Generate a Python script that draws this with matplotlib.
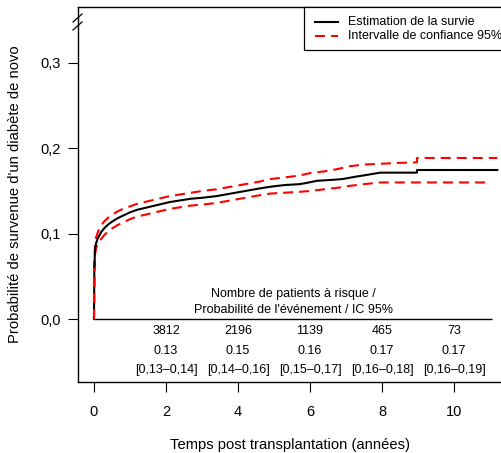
import numpy as np
import matplotlib.pyplot as plt
from matplotlib.lines import Line2D
from matplotlib.patches import Rectangle

plt.rcParams['font.family'] = ['Liberation Sans', 'DejaVu Sans']

# estimate
t_est = [0, 0.01, 0.03, 0.06, 0.1, 0.15, 0.2, 0.3, 0.4, 0.5, 0.65, 0.8, 1.0, 1.2, 1.5, 1.8,
         2.1, 2.4, 2.7, 3.0, 3.4, 3.8, 4.2, 4.6, 4.9, 5.3, 5.7, 5.85, 6.2, 6.6, 6.9, 7.3, 7.6,
         7.95, 8.97, 8.97, 11.2]
v_est = [0, 0.060, 0.082, 0.089, 0.094, 0.098, 0.102, 0.107, 0.111, 0.114, 0.118, 0.121,
         0.125, 0.128, 0.131, 0.134, 0.137, 0.139, 0.141, 0.142, 0.144, 0.147, 0.150, 0.153,
         0.155, 0.157, 0.158, 0.159, 0.162, 0.163, 0.164, 0.167, 0.169, 0.1715, 0.1715,
         0.1746, 0.1746]

# 95% confidence band
t_up = [0, 0.01, 0.03, 0.06, 0.1, 0.15, 0.2, 0.3, 0.4, 0.5, 0.65, 0.8, 1.0, 1.2, 1.5, 1.8,
        2.1, 2.4, 2.7, 3.0, 3.4, 3.8, 4.2, 4.6, 4.9, 5.3, 5.7, 6.0, 6.4, 6.8, 7.1, 7.5, 8.0,
        8.5, 8.97, 8.97, 11.2]
v_up = [0, 0.064, 0.088, 0.096, 0.101, 0.106, 0.110, 0.115, 0.119, 0.122, 0.126, 0.129,
        0.132, 0.135, 0.138, 0.141, 0.144, 0.146, 0.148, 0.150, 0.152, 0.155, 0.158, 0.161,
        0.164, 0.166, 0.168, 0.171, 0.173, 0.176, 0.179, 0.181, 0.182, 0.183, 0.1836,
        0.1887, 0.1887]
t_lo = [0, 0.01, 0.03, 0.06, 0.1, 0.15, 0.2, 0.3, 0.4, 0.5, 0.65, 0.8, 1.0, 1.2, 1.5, 1.8,
        2.1, 2.4, 2.7, 3.0, 3.4, 3.8, 4.2, 4.6, 4.9, 5.3, 5.7, 6.0, 6.4, 6.8, 7.1, 7.5, 7.95,
        11.0]
v_lo = [0, 0.056, 0.076, 0.083, 0.088, 0.091, 0.094, 0.099, 0.103, 0.106, 0.110, 0.113,
        0.117, 0.120, 0.123, 0.126, 0.129, 0.131, 0.133, 0.134, 0.136, 0.139, 0.142, 0.145,
        0.147, 0.148, 0.149, 0.150, 0.152, 0.154, 0.156, 0.158, 0.160, 0.160]

# risk table
risk_times = [2, 4, 6, 8, 10]
n_risk = ['3812', '2196', '1139', '465', '73']
prob = ['0.13', '0.15', '0.16', '0.17', '0.17']
ci = ['[0,13\u20130,14]', '[0,14\u20130,16]', '[0,15\u20130,17]', '[0,16\u20130,18]', '[0,16\u20130,19]']

W, H = 502, 453
fig = plt.figure(figsize=(W / 100, H / 100), dpi=100)
ax = fig.add_axes([78 / W, 71 / H, 425 / W, 375 / H])


def fx(px):
    return px / W


def fy(py):
    return 1 - py / H


dash = (4.8, 2.9)
ax.plot(t_up, v_up, color='red', lw=1.5, dashes=dash)
ax.plot(t_lo, v_lo, color='red', lw=1.5, dashes=dash)
ax.plot(t_est, v_est, color='black', lw=1.5, zorder=3)
ax.plot([0, 0], [0, 0.06], color='red', lw=1.5, dashes=dash, zorder=4)
ax.hlines(0, 0, 11.05, color='black', lw=1.0)

ax.set_xlim(-0.444, 11.36)
ax.set_ylim(-0.0738, 0.3656)
ax.set_xticks([0, 2, 4, 6, 8, 10])
ax.set_yticks([0, 0.1, 0.2, 0.3])
ax.set_yticklabels(['0,0', '0,1', '0,2', '0,3'])
ax.tick_params(axis='y', direction='out', length=7, width=0.8, pad=5.5, labelsize=10.5)
ax.tick_params(axis='x', direction='out', length=7.5, width=0.8, pad=9, labelsize=10.5)
for s in ax.spines.values():
    s.set_linewidth(1.0)

# axis break mark "//"
for yc in (18, 26):
    fig.add_artist(Line2D([fx(73), fx(82)], [fy(yc + 4), fy(yc - 4)], color='black', lw=0.9))

# risk table text
ax.text(5.53, 0.0294, "Nombre de patients \u00e0 risque /", ha='center', va='center', fontsize=9)
ax.text(5.53, 0.0106, "Probabilit\u00e9 de l'\u00e9v\u00e9nement / IC 95%", ha='center', va='center', fontsize=9)
for x, a, b, c in zip(risk_times, n_risk, prob, ci):
    ax.text(x, -0.0140, a, ha='center', va='center', fontsize=9)
    ax.text(x, -0.0373, b, ha='center', va='center', fontsize=9)
    ax.text(x, -0.0597, c, ha='center', va='center', fontsize=9)

# legend box (runs past the right edge as in the source)
fig.add_artist(Rectangle((fx(304), fy(50)), fx(560) - fx(304), fy(7) - fy(50),
                         facecolor='white', edgecolor='black', lw=0.9, zorder=5))
fig.add_artist(Line2D([fx(315), fx(338)], [fy(21.7)] * 2, color='black', lw=1.5, zorder=6))
fig.add_artist(Line2D([fx(315), fx(338)], [fy(36)] * 2, color='red', lw=1.5, dashes=dash, zorder=6))
fig.text(fx(348), fy(21.7), 'Estimation de la survie', fontsize=9, va='center', zorder=6)
fig.text(fx(348), fy(36), 'Intervalle de confiance 95%', fontsize=9, va='center', zorder=6)

fig.text(fx(15), fy(194), "Probabilit\u00e9 de survenue d'un diab\u00e8te de novo",
         rotation=90, ha='center', va='center', fontsize=10.6)
fig.text(fx(290), fy(445), "Temps post transplantation (ann\u00e9es)",
         ha='center', va='center', fontsize=10.6)

fig.savefig('out.png', dpi=100)
